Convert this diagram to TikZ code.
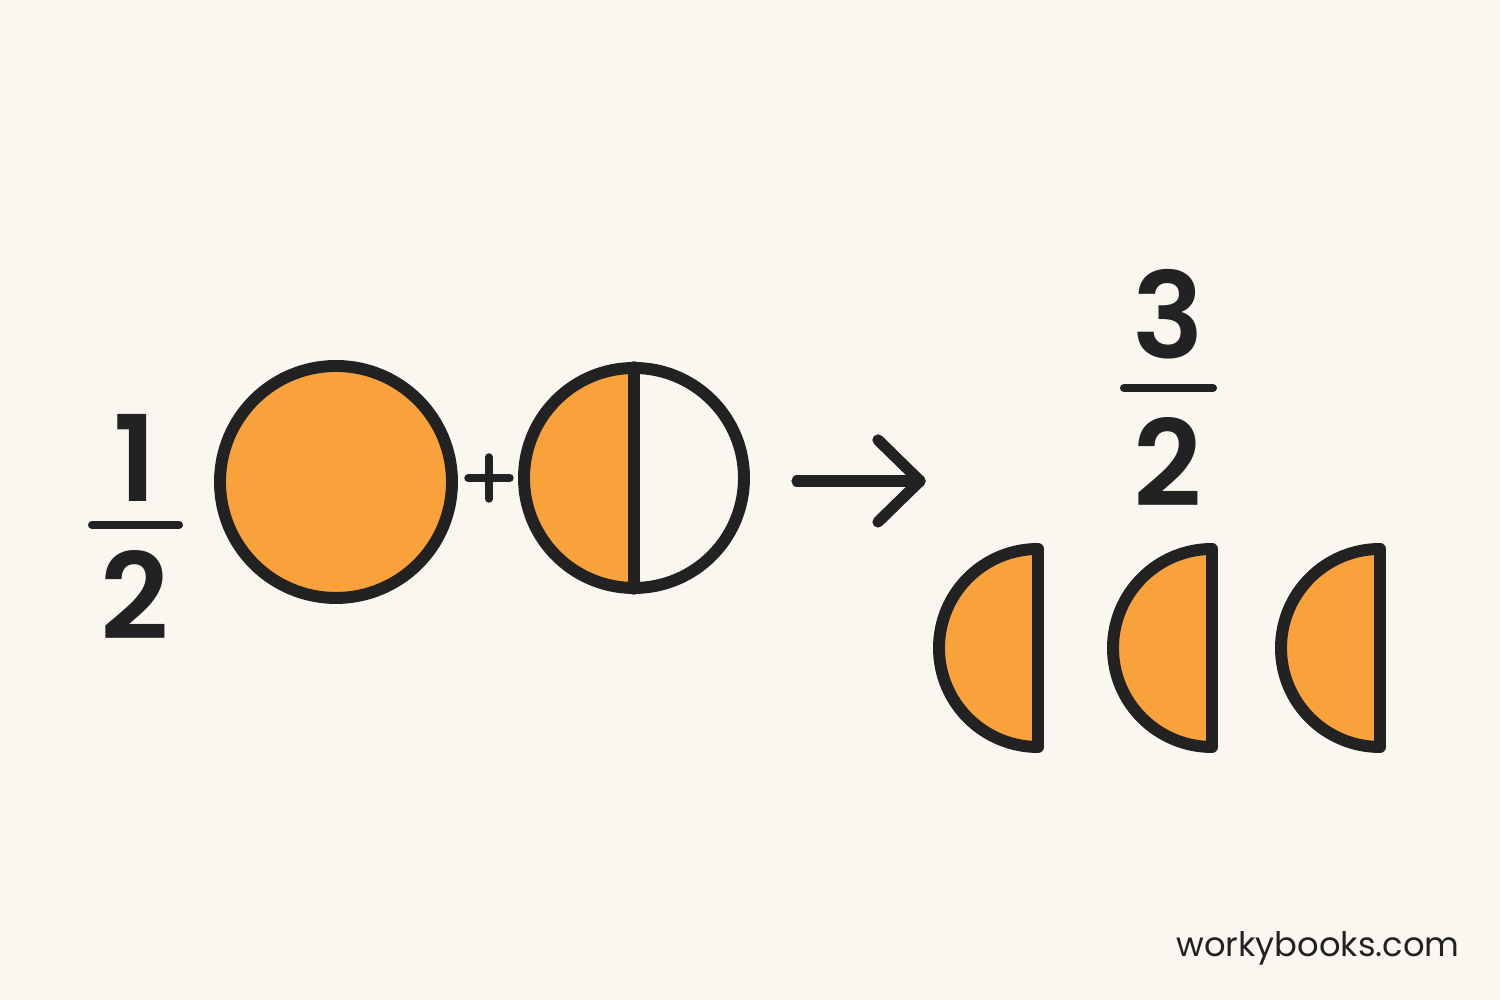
\documentclass[tikz,border=0pt]{standalone}
\usepackage{fontspec}
\setmainfont{Poppins}
\IfFontExistsTF{Poppins SemiBold}
  {\newfontfamily\digitfont{Poppins SemiBold}}
  {\newfontfamily\digitfont{Poppins}[UprightFont=*,BoldFont=*]\def\digitfont{\bfseries}}
\usepackage{tikz}
\usetikzlibrary{arrows}
\definecolor{paper}{HTML}{FAF6F0}
\definecolor{ink}{HTML}{222222}
\definecolor{peel}{HTML}{F9A13A}
\tikzstyle{digit} = [inner sep=0pt, text=ink, font=\fontsize{34}{40}\selectfont\digitfont]
\tikzstyle{bar} = [draw=ink, line width=2.3pt, line cap=round]
\tikzstyle{rim} = [draw=ink, line width=3.4pt, line join=round, line cap=round]
\tikzstyle{piece} = [rim, fill=peel]

\begin{document}
\begin{tikzpicture}
  \useasboundingbox [fill=paper] (0,0) rectangle (15,10);

  % one half
  \node (n1) [digit] at (1.35,5.42) {1};
  \node (d1) [digit] at (1.35,4.05) {2};
  \draw [bar] (0.92,4.75) -- (1.79,4.75);

  % whole circle
  \node (whole) [circle, piece, minimum size=2.32cm, inner sep=0pt] at (3.36,5.18) {};

  % plus
  \node (plus) [inner sep=0pt, minimum size=0.4cm] at (4.89,5.22) {};
  \draw [bar] (plus.west) -- (plus.east);
  \draw [bar] (plus.north) -- (plus.south);

  % circle cut in two
  \node (split) [circle, minimum size=2.2cm, inner sep=0pt] at (6.34,5.22) {};
  \fill [peel] (split.north) arc (90:270:1.1cm) -- cycle;
  \draw [rim] (split.center) circle (1.1cm);
  \draw [rim] (split.north) -- (split.south);

  % arrow
  \coordinate (from) at (7.97,5.19);
  \coordinate (to) at (9.20,5.19);
  \draw [rim, line width=3.2pt] (from) -- (to);
  \draw [rim, line width=3.2pt] ([shift={(-0.42,0.41)}]to) -- (to) -- ([shift={(-0.42,-0.41)}]to);

  % three halves
  \node (n3) [digit] at (11.68,6.86) {3};
  \node (d3) [digit] at (11.68,5.38) {2};
  \draw [bar] (11.24,6.12) -- (12.13,6.12);

  \foreach \x in {10.38,12.12,13.80} {
    \draw [piece] (\x,4.51) arc (90:270:0.99cm) -- cycle;
  }

  \node (site) [text=ink, font=\fontsize{9.6}{11}\selectfont] at (13.18,0.52) {workybooks.com};
\end{tikzpicture}
\end{document}
